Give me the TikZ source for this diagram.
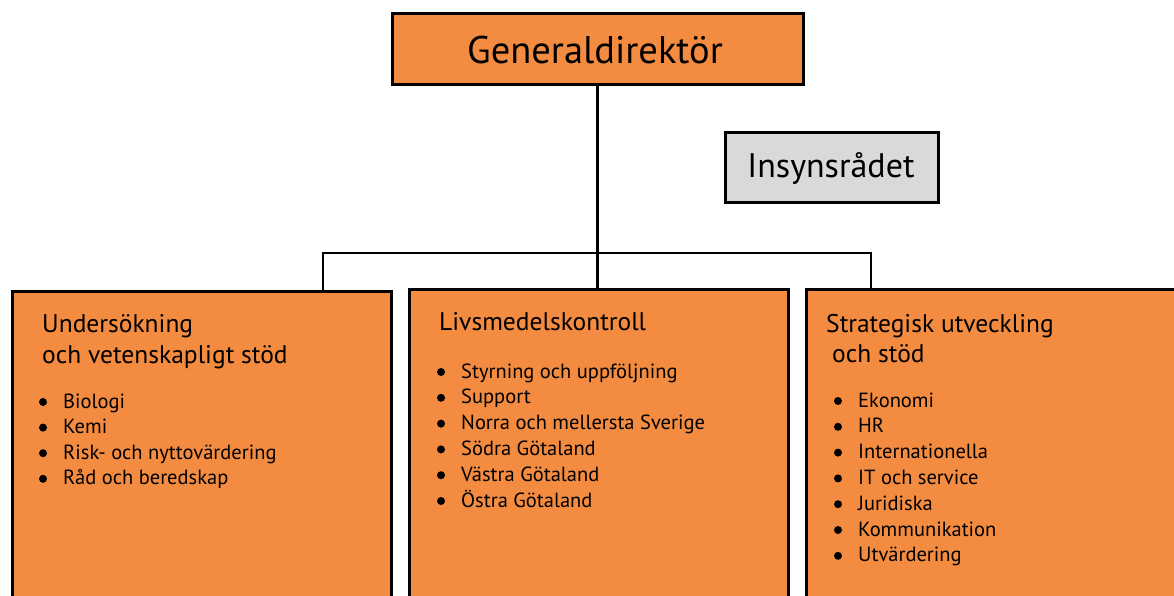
\documentclass[tikz,border=0pt]{standalone}
\usepackage{fontspec}
\setmainfont{PT Sans}
\definecolor{boxorange}{HTML}{F38B40}
\definecolor{boxgray}{HTML}{D9D9D9}
\begin{document}
\begin{tikzpicture}[x=1pt,y=-1pt,
  box/.style={draw=black,line width=3pt,inner sep=0pt},
  conn/.style={draw=black,line width=2.5pt},
  head/.style={anchor=base west,inner sep=0pt,font=\fontsize{25.5}{28}\selectfont},
  item/.style={anchor=base west,inner sep=0pt,font=\fontsize{20.5}{23}\selectfont},
  bul/.style={fill=black}]
\useasboundingbox (0,0) rectangle (1174,595);
\clip (0,0) rectangle (1174,595);
\fill[white] (0,0) rectangle (1174,595);
% top boxes
\node[box,fill=boxorange,minimum width=411pt,minimum height=71pt] (gd) at (597.5,48.5) {};
\node[anchor=base,inner sep=0pt,font=\fontsize{38.5}{40}\selectfont] (gdt) at (595,63) {Generaldirektör};
\node[box,fill=boxgray,minimum width=213pt,minimum height=70pt] (ins) at (831.5,167) {};
\node[anchor=base,inner sep=0pt,font=\fontsize{34}{38}\selectfont] (inst) at (831,177) {Insynsrådet};
% department boxes (run off the bottom edge)
\node[box,fill=boxorange,minimum width=379pt,minimum height=340pt,anchor=north west] (b1) at (11,290) {};
\node[box,fill=boxorange,minimum width=379pt,minimum height=340pt,anchor=north west] (b2) at (408,288) {};
\node[box,fill=boxorange,minimum width=379pt,minimum height=340pt,anchor=north west] (b3) at (805,288) {};
% connectors
\coordinate (busL) at (323,253);
\coordinate (busR) at (871,253);
\draw[conn] (gd.south) -- (gd.south |- b2.north);
\draw[conn] (busL |- b1.north) -- (busL) -- (busR) -- (busR |- b3.north);
% box 1
\node[head] (h1a) at (42,332) {Undersökning};
\node[head] (h1b) at (42,363) {och vetenskapligt stöd};
\foreach \t [count=\i] in {Biologi,Kemi,Risk- och nyttovärdering,Råd och beredskap}{
  \node[item] (a\i) at (63,{408+25.6*(\i-1)}) {\t};
  \fill[bul] (43,{402+25.6*(\i-1)}) circle (4);
}
% box 2
\node[head] (h2a) at (439,330) {Livsmedelskontroll};
\foreach \t [count=\i] in {Styrning och uppföljning,Support,Norra och mellersta Sverige,Södra Götaland,Västra Götaland,Östra Götaland}{
  \node[item] (c\i) at (461,{378+25.8*(\i-1)}) {\t};
  \fill[bul] (441,{372+25.8*(\i-1)}) circle (4);
}
% box 3
\node[head] (h3a) at (826,332) {Strategisk utveckling};
\node[head] (h3b) at (832,362) {och stöd};
\foreach \t [count=\i] in {Ekonomi,HR,Internationella,IT och service,Juridiska,Kommunikation,Utvärdering}{
  \node[item] (e\i) at (858,{407+25.8*(\i-1)}) {\t};
  \fill[bul] (838,{401+25.8*(\i-1)}) circle (4);
}
\end{tikzpicture}
\end{document}
